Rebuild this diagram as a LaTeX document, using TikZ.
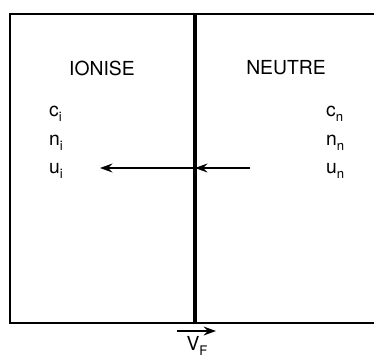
\documentclass[tikz,border=0pt]{standalone}
\usepackage{fontspec}
\setmainfont{TeX Gyre Heros}
\usepackage{tikz}
\usetikzlibrary{arrows.meta, positioning}
\newcommand{\lowsub}[1]{\raisebox{-0.55ex}{\fontsize{7.5}{8}\selectfont #1}}

\begin{document}
\begin{tikzpicture}[
        x=0.02cm, y=-0.02cm,
        frame/.style={line width=0.9pt, draw=black},
        wall/.style={line width=2.1pt, draw=black},
        arrow/.style={-{Stealth[length=7pt, width=5pt]}, line width=1.1pt},
        region/.style={font=\fontsize{11}{13}\selectfont},
        qty/.style={font=\fontsize{11}{13}\selectfont, anchor=base west}
    ]
        \useasboundingbox (0,0) rectangle (374,358);

        % box and front
        \coordinate (tl) at (10,14);
        \coordinate (bl) at (10,323);
        \coordinate (tr) at (374,14);
        \coordinate (br) at (374,323);
        \coordinate (ftop) at (195,14);
        \coordinate (fbot) at (195,323);
        \draw[frame] (tr) -- (tl) -- (bl) -- (br);
        \draw[wall] (ftop) -- (fbot);

        \node[region] (ionise) at (102,68) {IONISE};
        \node[region] (neutre) at (286,68) {NEUTRE};

        \node[qty] (ci) at (43,116) {c\lowsub{i}};
        \node[qty] (ni) at (43,145) {n\lowsub{i}};
        \node[qty] (ui) at (43,173) {u\lowsub{i}};
        \node[qty] (cn) at (320,116) {c\lowsub{n}};
        \node[qty] (nn) at (320,145) {n\lowsub{n}};
        \node[qty] (un) at (320,173) {u\lowsub{n}};

        % flow through the front
        \coordinate (inflow) at (250,168);
        \coordinate (front) at (195,168);
        \coordinate (outflow) at (100,168);
        \draw[arrow] (inflow) -- (front);
        \draw[arrow] (front) -- (outflow);

        % front velocity
        \coordinate (vstart) at (177,331);
        \coordinate (vend) at (216,331);
        \draw[arrow] (vstart) -- (vend);
        \node[region, anchor=base] (vf) at (197,350) {V\lowsub{F}};
    \end{tikzpicture}
\end{document}
